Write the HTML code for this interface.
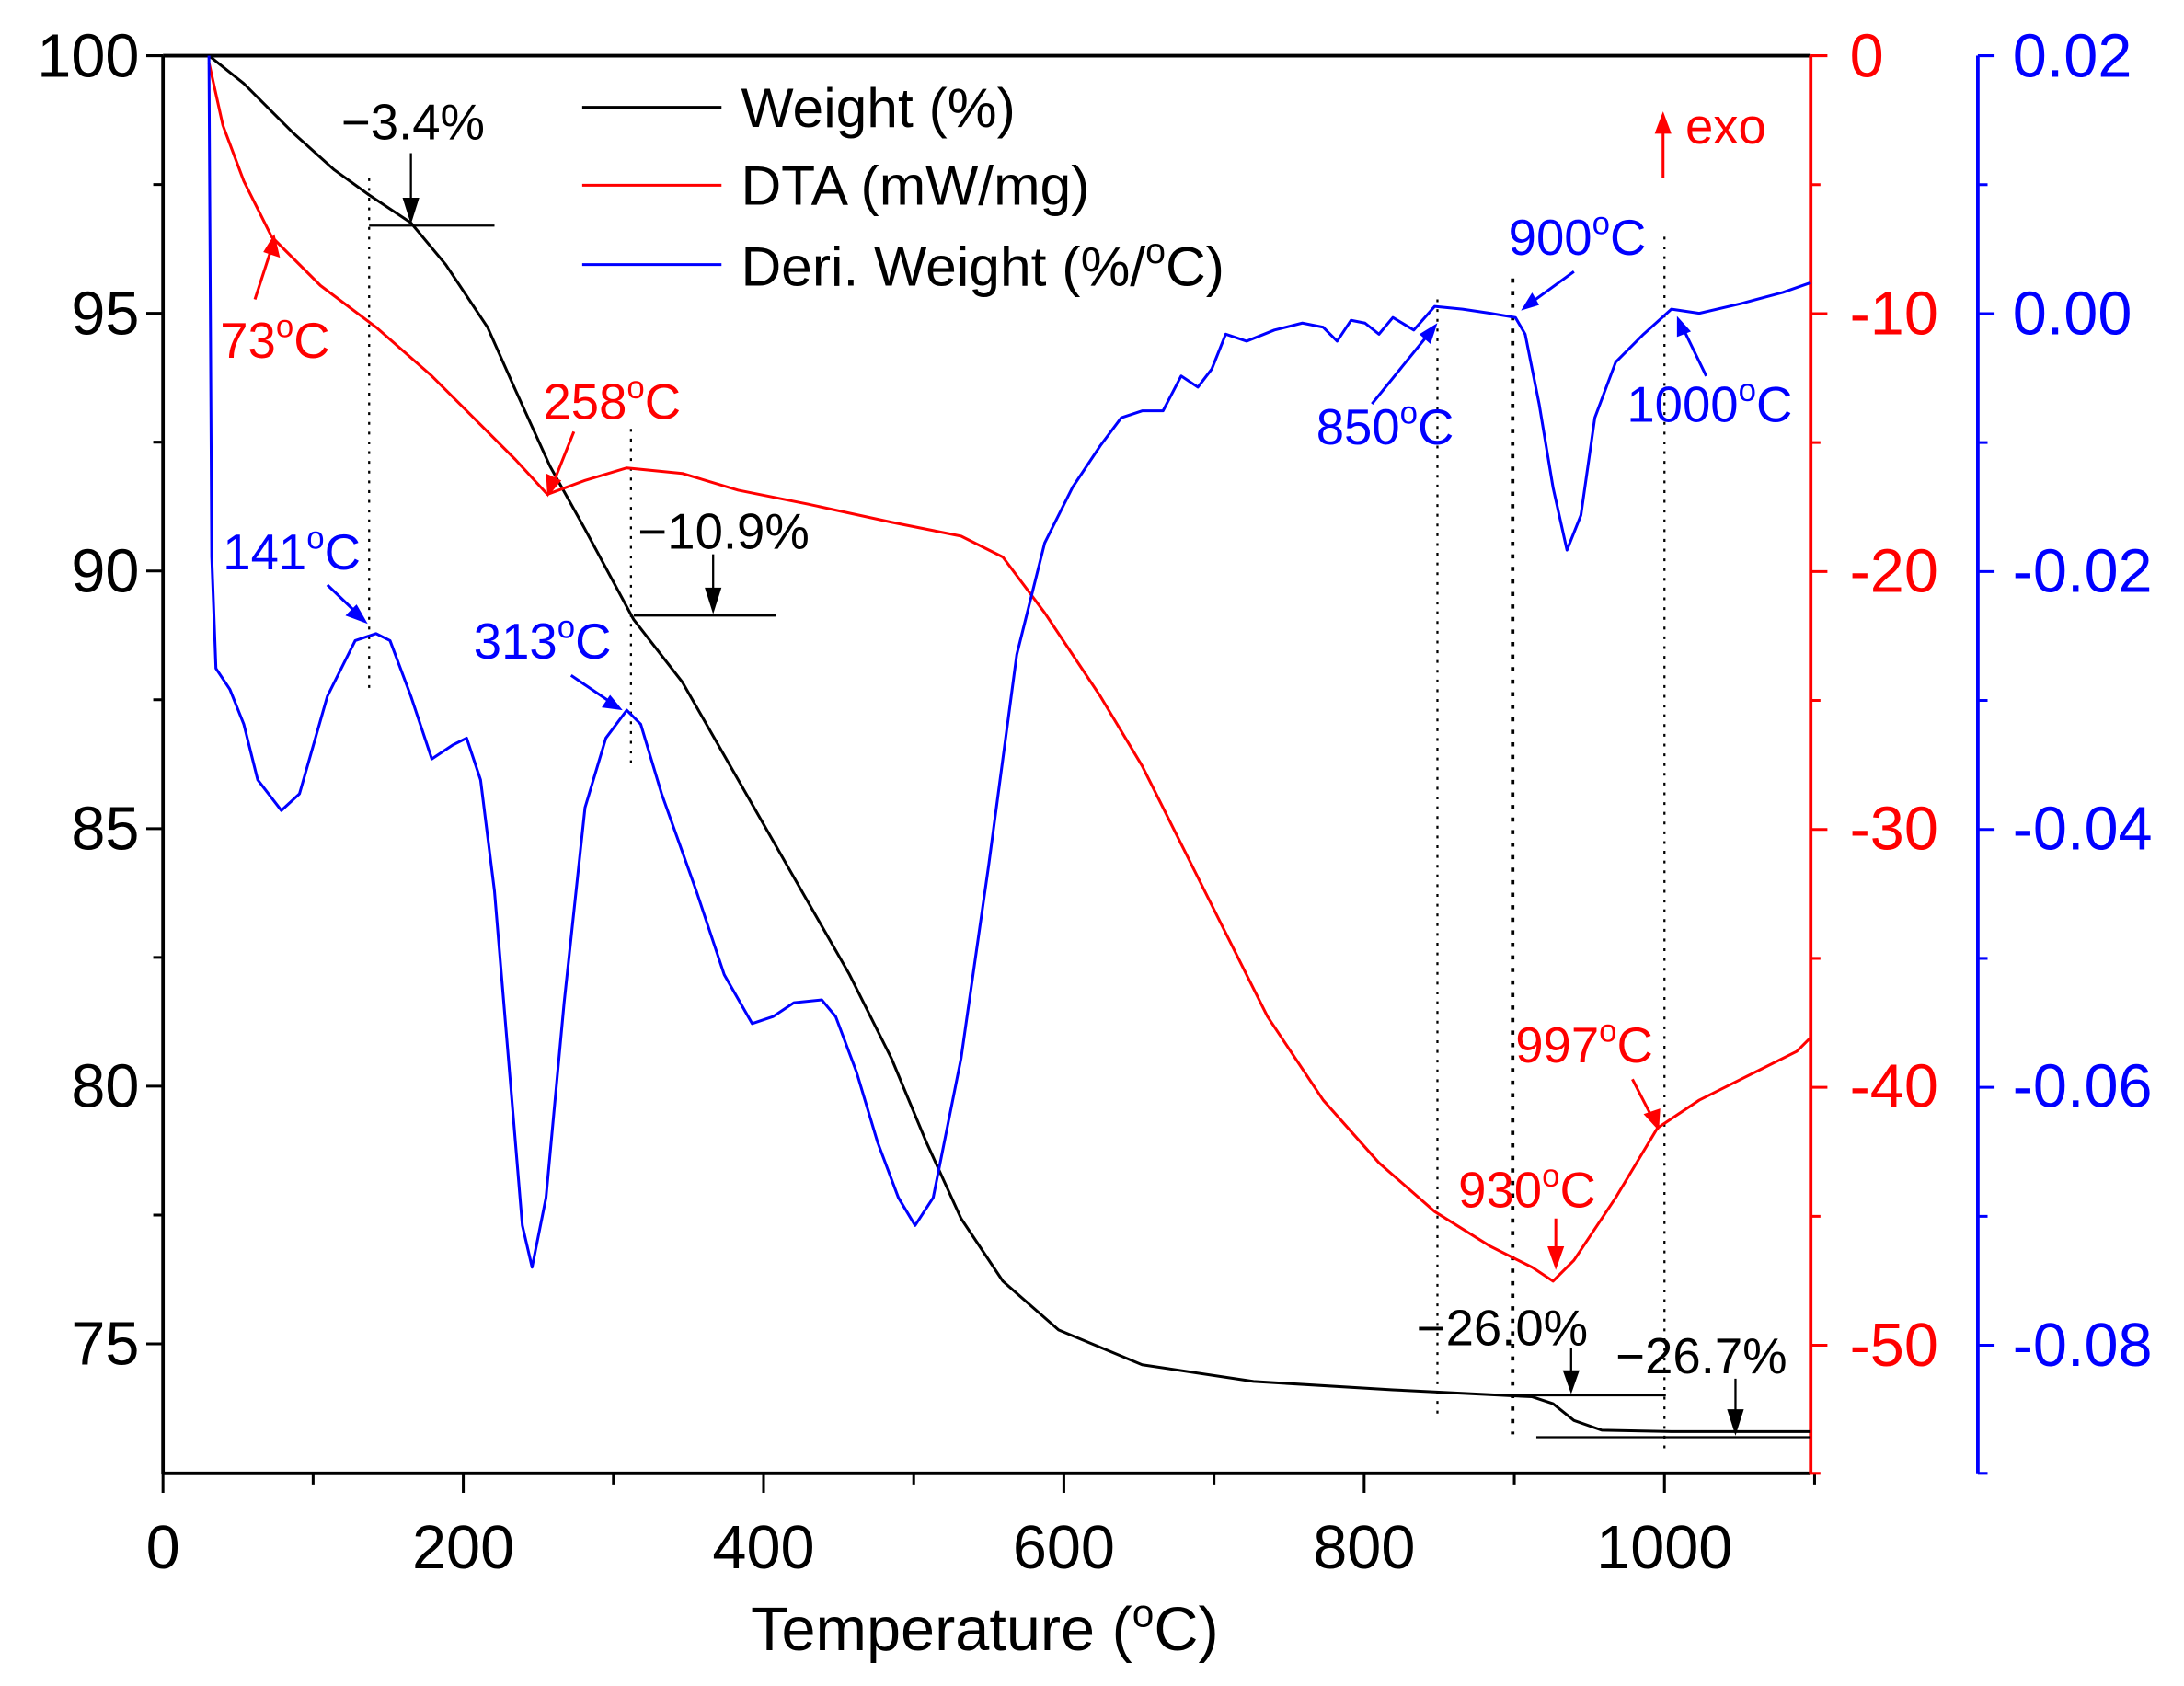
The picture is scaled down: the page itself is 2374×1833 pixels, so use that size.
<!DOCTYPE html>
<html><head><style>html,body{margin:0;padding:0;background:#fff}svg{display:block}</style></head>
<body>
<svg width="2374" height="1833" viewBox="0 0 1568 1210.7" xmlns="http://www.w3.org/2000/svg" font-family="Liberation Sans, sans-serif">
<rect width="1568" height="1211" fill="#fff"/>
<g fill="none" stroke-linejoin="round">
<path d="M117,40 H1300 M117,40 V1058 H1300" stroke="#000" stroke-width="2.5"/>
<path d="M1300,40 V1058" stroke="#f00" stroke-width="2.5"/>
<path d="M1420,40 V1058" stroke="#00f" stroke-width="2.5"/>
<g stroke="#000" stroke-width="2">
<path d="M105,40H117M105,225H117M105,410H117M105,595H117M105,780H117M105,965H117"/>
<path d="M110,132.5H117M110,317.5H117M110,502.5H117M110,687.5H117M110,872.5H117"/>
<path d="M117,1058v14M332.6,1058v14M548.2,1058v14M763.8,1058v14M979.4,1058v14M1195,1058v14"/>
<path d="M224.8,1058v8M440.4,1058v8M656,1058v8M871.6,1058v8M1087.2,1058v8M1302.8,1058v8"/>
</g>
<g stroke="#f00" stroke-width="2">
<path d="M1300,40h12M1300,225.2h12M1300,410.4h12M1300,595.6h12M1300,780.8h12M1300,966h12"/>
<path d="M1300,132.6h7M1300,317.8h7M1300,503h7M1300,688.2h7M1300,873.4h7M1300,1058h7"/>
</g>
<g stroke="#00f" stroke-width="2">
<path d="M1420,40h12M1420,225.2h12M1420,410.4h12M1420,595.6h12M1420,780.8h12M1420,966h12"/>
<path d="M1420,132.6h7M1420,317.8h7M1420,503h7M1420,688.2h7M1420,873.4h7M1420,1058h7"/>
</g>
<g stroke="#000" stroke-width="1.5" stroke-dasharray="2,5">
<path d="M265,128V495M453,308V548M1032,215V1020M1195,170V1040"/>
</g>
<path d="M1086,200V1030" stroke="#000" stroke-width="2.5" stroke-dasharray="3,6"/>
<path d="M265,162H355M455,442H557M1086,1002H1196M1103,1032H1300" stroke="#000" stroke-width="1.5"/>
<path d="M295,110V145M512,398V425M1128,968V987M1246,990V1017" stroke="#000" stroke-width="1.5"/>
<g fill="#000" stroke="none">
<path d="M295,161L289,142L301,142z"/><path d="M512,441L506,422L518,422z"/><path d="M1128,1001L1122,984L1134,984z"/><path d="M1246,1031L1240,1012L1252,1012z"/>
</g>
<path d="M150,40 L175,60 L210,95 L240,122 L265,140 L295,160 L320,190 L350,235 L370,280 L395,335 L420,380 L455,445 L490,490 L530,560 L570,630 L610,700 L640,760 L665,820 L690,875 L720,920 L760,955 L820,980 L900,992 L1000,998 L1100,1003 L1115,1008 L1130,1020 L1150,1027 L1200,1028 L1300,1028" stroke="#000" stroke-width="2"/>
<path d="M150,45 L160,90 L175,130 L195,170 L230,205 L270,235 L310,270 L340,300 L370,330 L393,355 L420,345 L450,336 L490,340 L530,352 L580,362 L640,375 L690,385 L720,400 L750,440 L790,500 L820,550 L850,610 L880,670 L910,730 L950,790 L990,835 L1030,870 L1070,895 L1100,910 L1115,920 L1130,905 L1160,860 L1190,810 L1220,790 L1260,770 L1290,755 L1300,745" stroke="#f00" stroke-width="2"/>
<path d="M150,40 L152,400 L155,480 L165,495 L175,520 L185,560 L202,582 L215,570 L235,500 L255,460 L270,455 L280,460 L295,500 L310,545 L325,535 L335,530 L345,560 L355,640 L365,760 L375,880 L382,910 L392,860 L405,720 L420,580 L435,530 L450,510 L460,520 L475,570 L500,640 L520,700 L540,735 L555,730 L570,720 L590,718 L600,730 L615,770 L630,820 L645,860 L657,880 L670,860 L690,760 L710,620 L730,470 L750,390 L770,350 L790,320 L805,300 L820,295 L835,295 L848,270 L860,278 L870,265 L880,240 L895,245 L915,237 L935,232 L950,235 L960,245 L970,230 L980,232 L990,240 L1000,228 L1015,237 L1030,220 L1050,222 L1070,225 L1088,228 L1095,240 L1105,290 L1115,350 L1125,395 L1135,370 L1145,300 L1160,260 L1180,240 L1200,222 L1220,225 L1250,218 L1280,210 L1300,203" stroke="#00f" stroke-width="2"/>
<path d="M418,77H518" stroke="#000" stroke-width="2"/>
<path d="M418,133H518" stroke="#f00" stroke-width="2"/>
<path d="M418,190H518" stroke="#00f" stroke-width="2"/>
<g stroke="#f00" stroke-width="2">
<path d="M183,215L196,175M412,310L396,350M1117,875V907M1172,775L1188,806M1194,128V86"/>
</g>
<g fill="#f00" stroke="none">
<path d="M197,168L201,185L189,181z"/><path d="M393,357L392,340L403,345z"/><path d="M1117,912L1111,895L1123,895z"/><path d="M1191,812L1180,800L1192,796z"/><path d="M1194,80L1200,96L1188,96z"/>
</g>
<g stroke="#00f" stroke-width="2">
<path d="M235,420L259,443M410,485L441,506M985,290L1028,237M1130,195L1097,219M1225,270L1207,233"/>
</g>
<g fill="#00f" stroke="none">
<path d="M264,448L248,442L256,434z"/><path d="M447,510L432,508L438,499z"/><path d="M1032,232L1027,247L1019,240z"/><path d="M1092,223L1100,210L1105,219z"/><path d="M1204,227L1214,238L1204,242z"/>
</g>
</g>
<g font-size="44" fill="#000" text-anchor="end">
<text x="100" y="55">100</text><text x="100" y="240">95</text><text x="100" y="425">90</text><text x="100" y="610">85</text><text x="100" y="795">80</text><text x="100" y="980">75</text>
</g>
<g font-size="44" fill="#000" text-anchor="middle">
<text x="117" y="1126">0</text><text x="332.6" y="1126">200</text><text x="548.2" y="1126">400</text><text x="763.8" y="1126">600</text><text x="979.4" y="1126">800</text><text x="1195" y="1126">1000</text>
<text x="707" y="1185">Temperature (<tspan font-size="28" dy="-17">o</tspan><tspan dy="17">C)</tspan></text>
</g>
<g font-size="44" fill="#f00">
<text x="1328" y="55">0</text><text x="1328" y="240">-10</text><text x="1328" y="425">-20</text><text x="1328" y="610">-30</text><text x="1328" y="795">-40</text><text x="1328" y="981">-50</text>
</g>
<g font-size="44" fill="#00f">
<text x="1445" y="55">0.02</text><text x="1445" y="240">0.00</text><text x="1445" y="425">-0.02</text><text x="1445" y="610">-0.04</text><text x="1445" y="795">-0.06</text><text x="1445" y="981">-0.08</text>
</g>
<g font-size="40" fill="#000">
<text x="532" y="91">Weight (%)</text>
<text x="532" y="147">DTA (mW/mg)</text>
<text x="532" y="205">Deri. Weight (%/<tspan font-size="26" dy="-16">o</tspan><tspan dy="16">C)</tspan></text>
</g>
<g font-size="36" fill="#000">
<text x="245" y="100">−3.4%</text><text x="458" y="394">−10.9%</text><text x="1017" y="966">−26.0%</text><text x="1160" y="986">−26.7%</text>
</g>
<g font-size="36" fill="#f00">
<text x="1210" y="103">exo</text>
<text x="158" y="257">73<tspan font-size="23" dy="-15">o</tspan><tspan dy="15">C</tspan></text>
<text x="390" y="301">258<tspan font-size="23" dy="-15">o</tspan><tspan dy="15">C</tspan></text>
<text x="1047" y="867">930<tspan font-size="23" dy="-15">o</tspan><tspan dy="15">C</tspan></text>
<text x="1088" y="763">997<tspan font-size="23" dy="-15">o</tspan><tspan dy="15">C</tspan></text>
</g>
<g font-size="36" fill="#00f">
<text x="160" y="409">141<tspan font-size="23" dy="-15">o</tspan><tspan dy="15">C</tspan></text>
<text x="340" y="473">313<tspan font-size="23" dy="-15">o</tspan><tspan dy="15">C</tspan></text>
<text x="945" y="319">850<tspan font-size="23" dy="-15">o</tspan><tspan dy="15">C</tspan></text>
<text x="1083" y="183">900<tspan font-size="23" dy="-15">o</tspan><tspan dy="15">C</tspan></text>
<text x="1168" y="303">1000<tspan font-size="23" dy="-15">o</tspan><tspan dy="15">C</tspan></text>
</g>
</svg>
</body></html>
